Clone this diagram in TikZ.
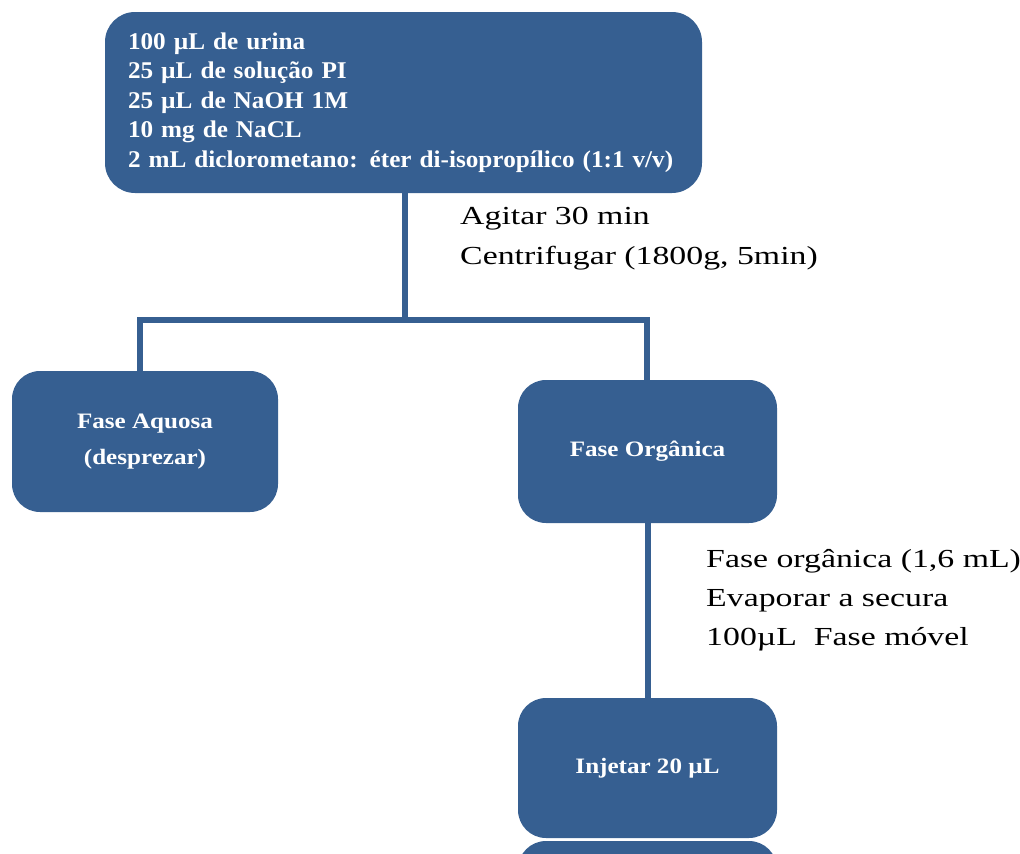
\documentclass[tikz,border=0pt]{standalone}
\usepackage{fontspec}
\setmainfont{Liberation Serif}
\newfontfamily\boxfont[FakeStretch=1.05]{Liberation Serif}
\newfontfamily\smallboxfont[FakeStretch=1.14]{Liberation Serif}
\newfontfamily\lblfont[FakeStretch=1.3]{Liberation Serif}
\definecolor{boxblue}{HTML}{365F91}
\begin{document}
\begin{tikzpicture}[x=1pt,y=-1pt,
  stepbox/.style={fill=boxblue, draw=none, rounded corners=28pt, text=white,
    inner sep=0pt, align=center, font=\smallboxfont\bfseries\fontsize{22}{37}\selectfont},
  conn/.style={draw=boxblue, line width=6pt},
  lbl/.style={anchor=north west, align=left, inner sep=0pt, text=black}]
\useasboundingbox (0,0) rectangle (1020,854);
\begin{scope}
\clip (0,0) rectangle (1020,854);
% top box
\node[stepbox, rounded corners=30pt, minimum width=597pt, minimum height=181pt,
  text width=551pt, align=left, font=\boxfont\bfseries\fontsize{24}{29.5}\selectfont]
  (top) at (403.5,102.5) {100 µL de urina\\25 µL de solução PI\\25 µL de NaOH 1M\\10 mg de NaCL\\2 mL diclorometano: éter di-isopropílico (1:1 v/v)};
\node[stepbox, minimum width=266pt, minimum height=141pt] (aq) at (145,441.5) {\raisebox{-7pt}{\shortstack{Fase Aquosa\\[13pt](desprezar)}}};
\node[stepbox, minimum width=259pt, minimum height=143pt] (org) at (647.5,451.5) {Fase Orgânica};
\node[stepbox, minimum width=259pt, minimum height=140pt] (inj) at (647.5,768) {Injetar 20 µL};
\node[stepbox, minimum width=259pt, minimum height=140pt] (nxt) at (647.5,911) {};
% connectors
\coordinate (j) at (405,320);
\coordinate (jl) at (140,320);
\coordinate (jr) at (647,320);
\draw[conn] (top.south -| j) -- (j);
\draw[conn, line cap=rect] (jl) -- (jr);
\draw[conn] (jl) -- (aq.north -| jl);
\draw[conn] (jr) -- (org.north -| jr);
\draw[conn] (org.south) -- (inj.north);
% labels
\node[lbl, font=\lblfont\fontsize{26}{40}\selectfont] (l1) at (460,207) {Agitar 30 min\\Centrifugar (1800g, 5min)};
\node[lbl, font=\lblfont\fontsize{26}{39}\selectfont] (l2) at (706,549) {Fase orgânica (1,6 mL)\\Evaporar a secura\\100µL\ \ Fase móvel};
\end{scope}
\end{tikzpicture}
\end{document}
